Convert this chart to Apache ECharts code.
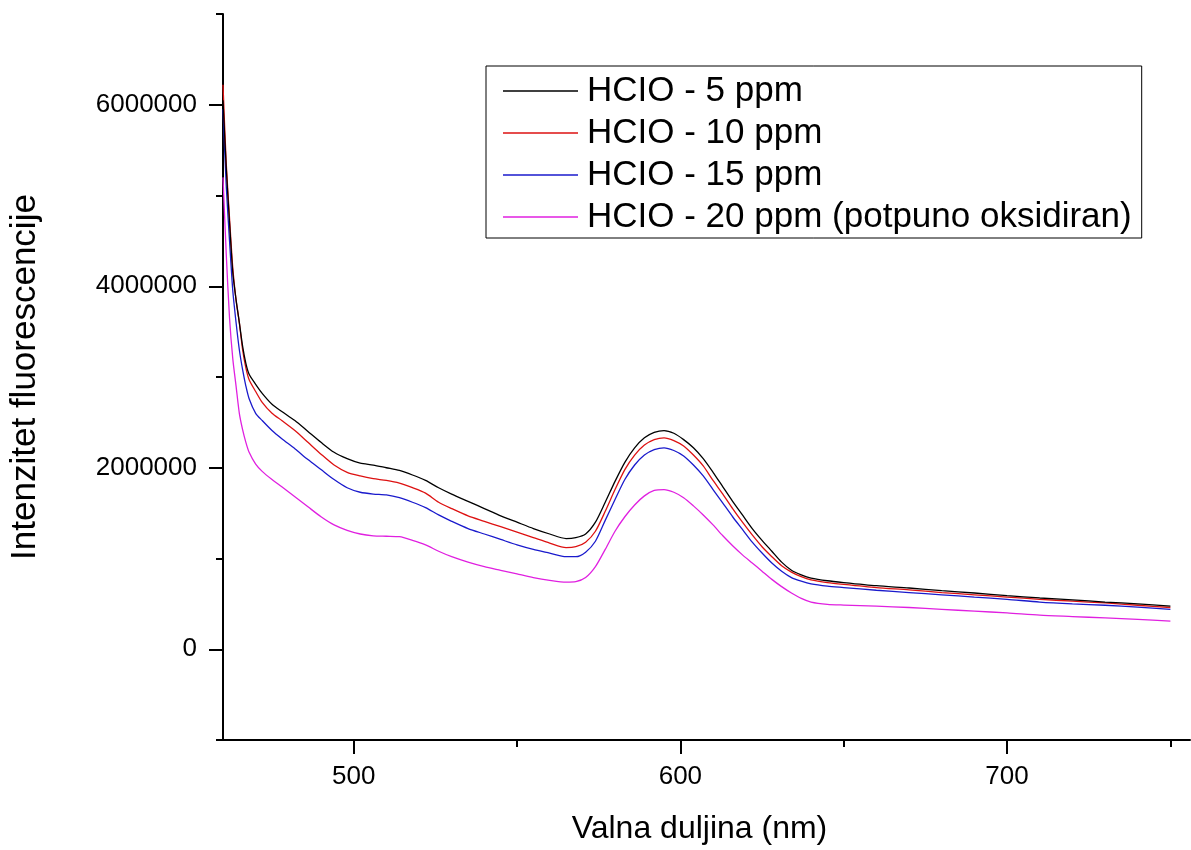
<!DOCTYPE html>
<html>
<head>
<meta charset="utf-8">
<script src="https://cdn.jsdelivr.net/npm/echarts@6/dist/echarts.min.js"></script>
<style>
html,body{margin:0;padding:0;background:#fff;}
#chart{width:1191px;height:850px;}
</style>
</head>
<body>
<div id="chart"></div>
<script>
const wavelength = [460,461,462,463,464,465,466,467,468,470,472,475,478,482,486,490,494,498,502,506,510,514,518,522,526,530,535,540,545,550,555,560,565,568,571,574,577,580,583,586,589,592,595,598,601,604,607,610,613,616,619,622,625,628,631,634,637,640,645,650,660,670,680,690,700,710,720,730,740,750];

const hclo5 = [6050000,5300000,4700000,4150000,3850000,3600000,3340000,3150000,3030000,2920000,2820000,2700000,2620000,2520000,2400000,2280000,2170000,2100000,2050000,2030000,2000000,1970000,1920000,1860000,1780000,1710000,1630000,1550000,1470000,1400000,1330000,1270000,1220000,1230000,1270000,1400000,1620000,1850000,2060000,2220000,2330000,2390000,2410000,2380000,2310000,2220000,2100000,1950000,1790000,1630000,1480000,1330000,1200000,1080000,960000,870000,820000,785000,755000,735000,700000,675000,645000,620000,590000,565000,545000,520000,500000,475000];

const hclo10 = [6220000,5350000,4750000,4200000,3850000,3600000,3300000,3100000,2970000,2840000,2720000,2600000,2520000,2410000,2280000,2150000,2030000,1950000,1910000,1880000,1860000,1830000,1780000,1720000,1620000,1550000,1470000,1410000,1350000,1290000,1230000,1170000,1120000,1130000,1180000,1300000,1520000,1760000,1980000,2140000,2250000,2310000,2330000,2300000,2240000,2140000,2020000,1860000,1710000,1550000,1400000,1260000,1130000,1020000,920000,850000,800000,765000,735000,715000,680000,655000,625000,600000,575000,550000,530000,510000,485000,460000];

const hclo15 = [5950000,5100000,4500000,3950000,3600000,3300000,3080000,2900000,2760000,2600000,2520000,2410000,2320000,2210000,2090000,1980000,1870000,1780000,1730000,1710000,1700000,1670000,1620000,1560000,1480000,1410000,1330000,1270000,1210000,1150000,1100000,1060000,1020000,1020000,1070000,1190000,1420000,1650000,1870000,2030000,2140000,2200000,2220000,2190000,2130000,2030000,1910000,1760000,1610000,1460000,1320000,1180000,1060000,950000,860000,790000,750000,720000,695000,680000,650000,625000,600000,575000,550000,520000,500000,485000,465000,440000];

const hclo20 = [5200000,4350000,3650000,3200000,2900000,2600000,2420000,2280000,2170000,2040000,1960000,1870000,1790000,1680000,1570000,1460000,1370000,1310000,1270000,1250000,1245000,1240000,1200000,1150000,1080000,1020000,960000,910000,870000,830000,790000,760000,740000,745000,790000,910000,1100000,1300000,1460000,1590000,1690000,1750000,1760000,1730000,1670000,1580000,1480000,1370000,1250000,1140000,1040000,950000,860000,770000,690000,620000,560000,520000,495000,487000,475000,460000,440000,420000,400000,375000,360000,345000,330000,310000];

const seriesNames = ['HCIO - 5 ppm','HCIO - 10 ppm','HCIO - 15 ppm','HCIO - 20 ppm (potpuno oksidiran)'];
const seriesColors = ['#000000','#dd1111','#1a1acc','#e020e0'];
const seriesValues = [hclo5, hclo10, hclo15, hclo20];

const xMajorTicks = [500,600,700];
const xMinorTicks = [550,650,750];
const yMajorTicks = [0,2000000,4000000,6000000];

const FONT = '"Liberation Sans", Arial, sans-serif';

const chart = echarts.init(document.getElementById('chart'), null, {renderer:'canvas'});

const series = seriesValues.map((vals, i) => ({
  name: seriesNames[i],
  type: 'line',
  xAxisIndex: 0,
  yAxisIndex: 0,
  data: wavelength.map((w, j) => [w, vals[j]]),
  symbol: 'none',
  showSymbol: false,
  smooth: 0.25,
  lineStyle: {color: seriesColors[i], width: 1.3},
  itemStyle: {color: seriesColors[i]},
  z: 10 - i,
  animation: false
}));

chart.setOption({
  animation: false,
  backgroundColor: '#ffffff',
  grid: {left: 222, right: 1, top: 14, bottom: 108, containLabel: false},
  legend: {
    show: true,
    data: seriesNames.map((n, i) => ({name: n, icon: 'rect', itemStyle: {color: seriesColors[i]}})),
    orient: 'vertical',
    left: 486,
    top: 66,
    padding: [4, 10, 0, 17],
    itemGap: 0,
    itemWidth: 75,
    itemHeight: 1.3,
    borderColor: '#000',
    borderWidth: 1,
    backgroundColor: '#fff',
    selectedMode: false,
    textStyle: {fontFamily: FONT, fontSize: 35, color: '#000', lineHeight: 42, padding: [0,0,0,4]}
  },
  xAxis: [
    {
      type: 'value', min: 460, max: 756, position: 'bottom',
      name: 'Valna duljina (nm)', nameLocation: 'middle', nameGap: 73,
      nameTextStyle: {fontFamily: FONT, fontSize: 32, color: '#000', padding: [0, 14, 0, 0]},
      axisLine: {show: true, onZero: false, lineStyle: {color: '#000', width: 2}},
      axisTick: {show: true, inside: false, length: 14, lineStyle: {color: '#000', width: 2}, customValues: xMajorTicks},
      axisLabel: {show: true, margin: 24, fontFamily: FONT, fontSize: 26, color: '#000', customValues: xMajorTicks},
      splitLine: {show: false}
    },
    {
      type: 'value', min: 460, max: 756, position: 'bottom',
      axisLine: {show: false, onZero: false},
      axisTick: {show: true, inside: false, length: 7, lineStyle: {color: '#000', width: 2}, customValues: xMinorTicks},
      axisLabel: {show: false},
      splitLine: {show: false}
    }
  ],
  yAxis: [
    {
      type: 'value', min: -1000000, max: 7000000, interval: 1000000, position: 'left',
      name: 'Intenzitet fluorescencije', nameLocation: 'middle', nameGap: 180,
      nameTextStyle: {fontFamily: FONT, fontSize: 35, color: '#000'},
      axisLine: {show: true, onZero: false, lineStyle: {color: '#000', width: 2}},
      axisTick: {show: true, inside: false, length: 7, lineStyle: {color: '#000', width: 2}},
      axisLabel: {show: true, margin: 26, fontFamily: FONT, fontSize: 26, color: '#000', customValues: yMajorTicks, formatter: v => String(v)},
      splitLine: {show: false}
    },
    {
      type: 'value', min: -1000000, max: 7000000, position: 'left',
      axisLine: {show: false, onZero: false},
      axisTick: {show: true, inside: false, length: 14, lineStyle: {color: '#000', width: 2}, customValues: yMajorTicks},
      axisLabel: {show: false},
      splitLine: {show: false}
    }
  ],
  series: series
});
</script>
</body>
</html>
